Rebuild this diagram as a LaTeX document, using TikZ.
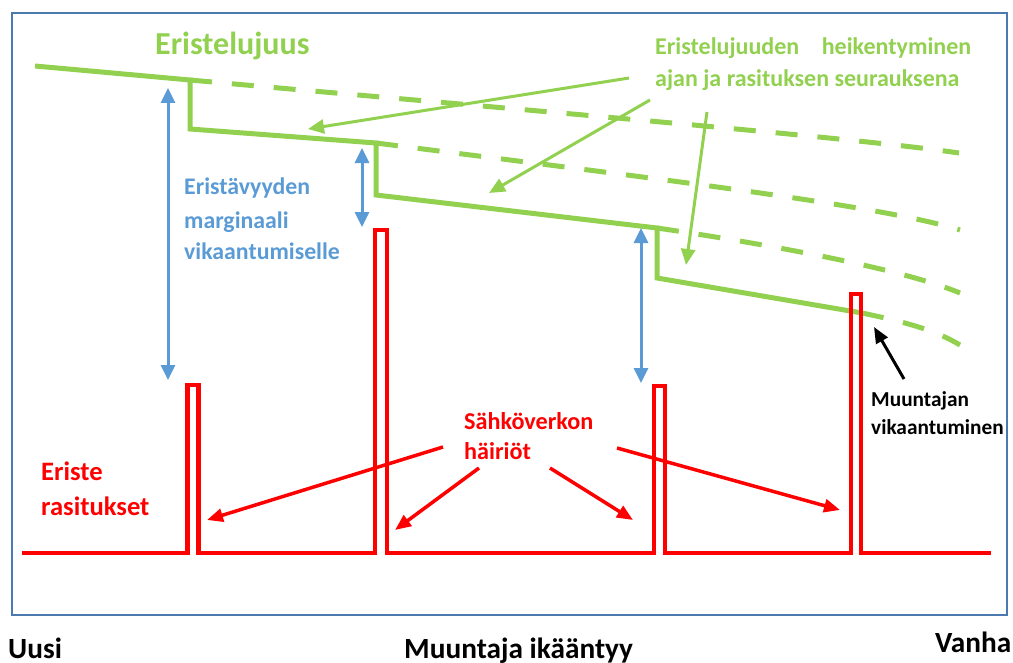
\documentclass[tikz,border=0pt]{standalone}
\usepackage{fontspec}
\setmainfont{Carlito}
\usetikzlibrary{arrows.meta}
\definecolor{strength}{HTML}{92D050}
\definecolor{margin}{HTML}{5B9BD5}
\definecolor{stress}{HTML}{FF0000}
\definecolor{frame}{HTML}{4A7AAE}
\begin{document}
\begin{tikzpicture}[x=1bp,y=-1bp,
  txt/.style={inner sep=0pt, anchor=base west, font=\bfseries},
  fs/.style={font=\bfseries\fontsize{#1bp}{#1bp}\selectfont},
  curve/.style={strength, line width=5bp, line join=miter},
  fade/.style={strength, line width=5bp, dash pattern=on 22bp off 20bp},
  pulses/.style={stress, line width=4.3bp, line join=miter},
  greenarrow/.style={strength, line width=3bp, -{Triangle[length=16bp,width=14bp]}},
  redarrow/.style={stress, line width=3.5bp, -{Triangle[length=16bp,width=13bp]}},
  bluearrow/.style={margin, line width=3bp, {Triangle[length=15bp,width=14bp]}-{Triangle[length=15bp,width=14bp]}},
  blackarrow/.style={black, line width=3bp, -{Triangle[length=16bp,width=13bp]}}]
\useasboundingbox (0,0) rectangle (1013,663);

% outer frame
\draw[frame, line width=2bp] (12,13) rectangle (1007,615);

% insulation strength, stepping down with every disturbance
\draw[curve] (35,66) -- (190,80) -- (190,129) -- (376,143) -- (376,195)
  -- (657,228) -- (657,278) -- (862,313);

% strength that would remain without the disturbances
\draw[fade] (190,80) .. controls (500,108) and (850,137) .. (959,153);
\draw[fade] (376,143) .. controls (650,178) and (880,205) .. (960,230);
\draw[fade] (657,228) .. controls (760,243) and (900,268) .. (960,293);
\draw[fade] (862,313) .. controls (905,322) and (935,330) .. (960,345);

% insulation stress with four voltage spikes
\draw[pulses] (22,553) -- (187.5,553) -- (187.5,385) -- (198.5,385) -- (198.5,553)
  -- (375,553) -- (375,230) -- (387,230) -- (387,553)
  -- (653.7,553) -- (653.7,386) -- (665,386) -- (665,553)
  -- (851,553) -- (851,294) -- (861,294) -- (861,553) -- (991,553);

% margins between strength and stress
\coordinate (m1t) at (168,88);  \coordinate (m1b) at (168,380);
\coordinate (m2t) at (362,148); \coordinate (m2b) at (362,227);
\coordinate (m3t) at (641,228); \coordinate (m3b) at (641,383);
\draw[bluearrow] (m1t) -- (m1b);
\draw[bluearrow] (m2t) -- (m2b);
\draw[bluearrow] (m3t) -- (m3b);

% labels
\node[txt, fs=32, text=strength] (title) at (155,55) {Eristelujuus};
\node[txt, fs=24, text=strength] (weak1) at (655,55) {\makebox[316bp][s]{Eristelujuuden heikentyminen}};
\node[txt, fs=24, text=strength] (weak2) at (655,87) {ajan ja rasituksen seurauksena};

\node[txt, fs=23.8, text=margin] (marg1) at (184,195) {Eristävyyden};
\node[txt, fs=23.8, text=margin] (marg2) at (184,228) {marginaali};
\node[txt, fs=23.8, text=margin] (marg3) at (184,259) {vikaantumiselle};

\node[txt, fs=26.6, text=stress] (stress1) at (41,480) {Eriste};
\node[txt, fs=26.6, text=stress] (stress2) at (41,515) {rasitukset};

\node[txt, fs=24.2, text=stress] (grid1) at (464,429) {Sähköverkon};
\node[txt, fs=24.2, text=stress] (grid2) at (464,459) {häiriöt};

\node[txt, fs=21.3] (fail1) at (871,406) {Muuntajan};
\node[txt, fs=21.3] (fail2) at (871,434) {vikaantuminen};

\node[txt, fs=29.3] (new) at (8,658) {Uusi};
\node[txt, fs=29.3] (age) at (404,658) {Muuntaja ikääntyy};
\node[txt, fs=29.3] (old) at (935,652) {Vanha};

% pointers from the weakening label
\coordinate (ga0) at (629,78);  \coordinate (ga1) at (308,129);
\coordinate (gb0) at (650,100); \coordinate (gb1) at (489,193);
\coordinate (gc0) at (707,112); \coordinate (gc1) at (686,265);
\draw[greenarrow] (ga0) -- (ga1);
\draw[greenarrow] (gb0) -- (gb1);
\draw[greenarrow] (gc0) -- (gc1);

% pointers from the disturbance label
\coordinate (ra0) at (443,447); \coordinate (ra1) at (207,520);
\coordinate (rb0) at (479,468); \coordinate (rb1) at (395,530);
\coordinate (rc0) at (550,468); \coordinate (rc1) at (633,520);
\coordinate (rd0) at (617,448); \coordinate (rd1) at (840,510);
\draw[redarrow] (ra0) -- (ra1);
\draw[redarrow] (rb0) -- (rb1);
\draw[redarrow] (rc0) -- (rc1);
\draw[redarrow] (rd0) -- (rd1);

% failure point
\coordinate (fa0) at (904,379); \coordinate (fa1) at (874,327);
\draw[blackarrow] (fa0) -- (fa1);
\end{tikzpicture}
\end{document}
